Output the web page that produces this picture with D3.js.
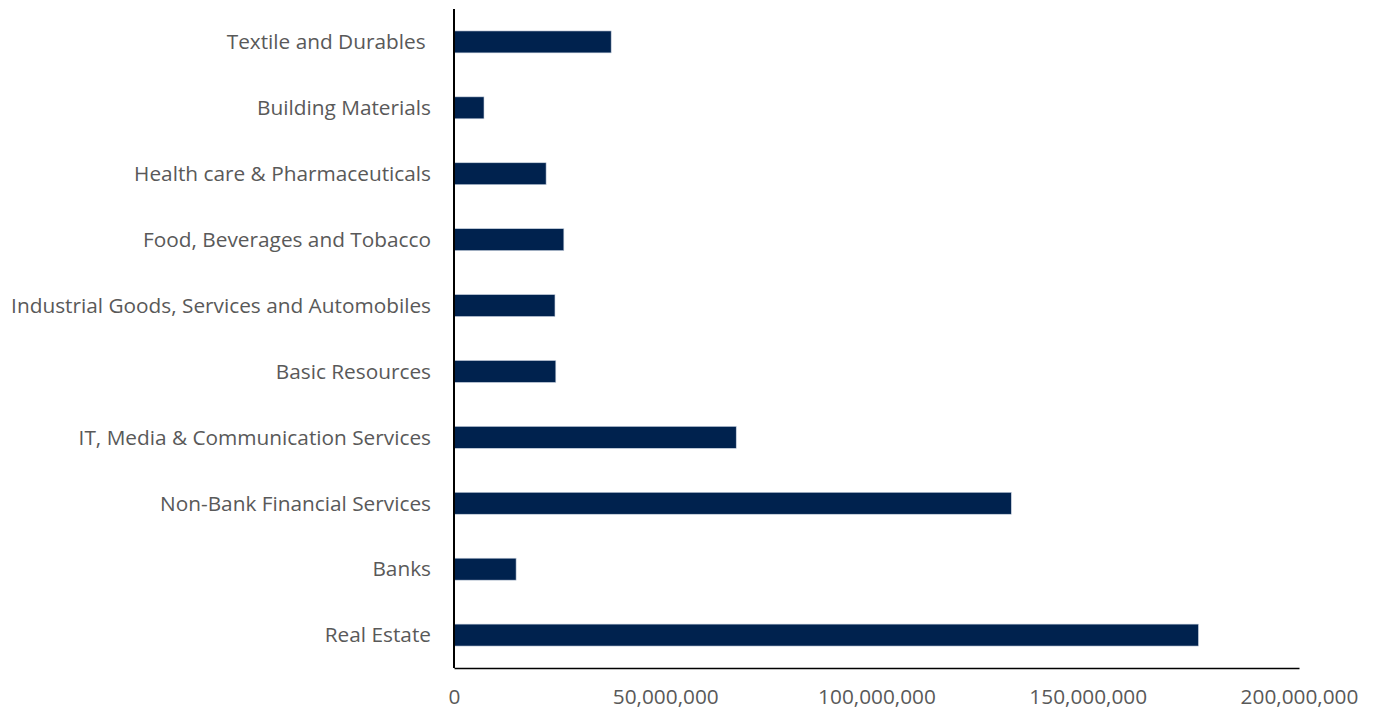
<!DOCTYPE html>
<html><head><meta charset="utf-8">
<script src="https://cdn.jsdelivr.net/npm/d3@7"></script>
<style>body{margin:0;background:#fff;} text{font-family:"Open Sans", "Noto Sans", sans-serif; white-space:pre;}</style>
</head><body><svg id="c" width="1376" height="710"></svg>
<script>
const categories = ["Textile and Durables ","Building Materials","Health care & Pharmaceuticals","Food, Beverages and Tobacco","Industrial Goods, Services and Automobiles","Basic Resources","IT, Media & Communication Services","Non-Bank Financial Services","Banks","Real Estate"];
const values = [37200000,7100000,21800000,26000000,23900000,24100000,66800000,131900000,14700000,176200000];
const tickValues = [0,50000000,100000000,150000000,200000000];

const svg = d3.select("#c");
const m = {left:454, right:1299, top:9, bottom:668};
const x = d3.scaleLinear().domain([0,200000000]).range([m.left,m.right]);
const y = d3.scaleBand().domain(categories).range([m.top,m.bottom]).paddingInner(0.667).paddingOuter(0.333);

svg.selectAll("rect.bar").data(values).join("rect").attr("class","bar")
  .attr("x",x(0)).attr("y",(d,i)=>y(categories[i]))
  .attr("width",d=>x(d)-x(0)).attr("height",y.bandwidth())
  .attr("fill","#00224E").attr("stroke","#c9d3e0").attr("stroke-width",0.6);

const xa = svg.append("g").attr("transform",`translate(0,${m.bottom})`)
  .call(d3.axisBottom(x).tickValues(tickValues).tickSize(0).tickPadding(21).tickFormat(d3.format(",")));
xa.select(".domain").attr("stroke","#000").attr("stroke-width",1.5);
xa.selectAll("text").attr("font-size",20.8).attr("fill","#595959").style("font-family","'Open Sans', 'Noto Sans', sans-serif");

const ya = svg.append("g").attr("transform",`translate(${m.left},0)`)
  .call(d3.axisLeft(y).tickSize(0).tickPadding(23));
ya.select(".domain").attr("stroke","#000").attr("stroke-width",2).attr("d",`M0,${m.top}V${m.bottom}`);
ya.selectAll("text").attr("font-size",20.8).attr("fill","#595959").attr("dy","0.35em").style("font-family","'Open Sans', 'Noto Sans', sans-serif").style("white-space","pre");
</script></body></html>
